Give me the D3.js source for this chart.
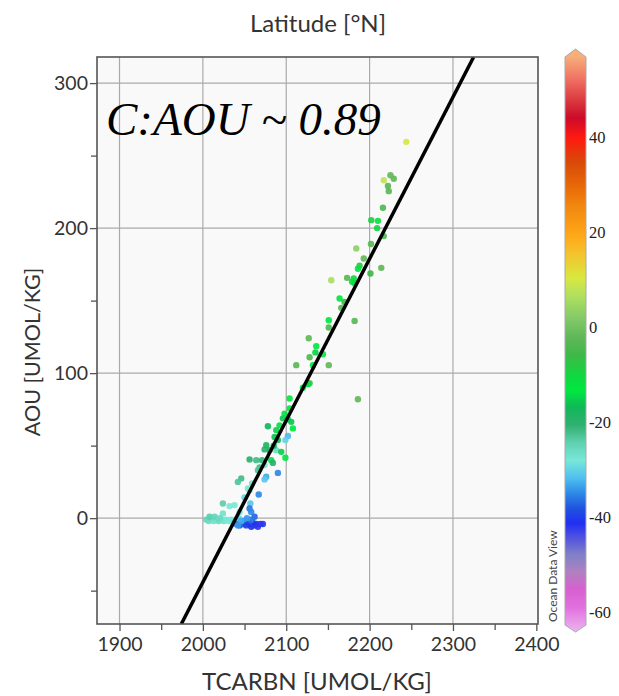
<!DOCTYPE html>
<html><head><meta charset="utf-8">
<script src="https://cdn.jsdelivr.net/npm/d3@7"></script>
<style>body{margin:0;background:#fff;} svg{display:block;}</style>
</head><body>
<svg id="c" width="619" height="696"></svg>
<script>
// ---- data ----
const tcarbn = [2244,2217,2225,2229,2222,2223,2216,2202,2210,2209,2217,2201.6,2184,2193,2188,2186,2201,2214,2173,2181,2179,2154,2182,2164,2170,2166,2151,2182,2151,2127,2136,2128,2135,2144,2132,2112,2151,2120,2128,2104,2186,2126,2104,2096,2102,2108,2106,2078,2088,2102,2099,2086,2090,2076,2080,2074,2088,2094,2099,2056,2064,2071,2082,2084,2068,2074,2066,2090,2076,2074,2046,2042,2059,2054,2056,2067,2050,2057,2024,2038,2032,2056,2058,2024,2044,2092,2098,2085,
  2004,2007,2010,2013,2016,2019,2022,2025,2028,2031,2034,2037,2040,2043,2008,2014,2020,
  2040,2044,2048,2050,2052,2055,2058,2060,2062,2064,2066,2069,2072,2062,2058,2053,2046,2042];
const aou = [259.5,233,236.5,234,229,225.5,214,205.5,205,200,194.5,189,186,179,174,172,168.7,172.6,165.7,165.3,163,164,162,151.5,149,145,136.5,136,131.5,124,118.6,111,114.3,113,105.5,105.5,105.5,90,93,82.5,82,92.4,75.6,68.8,68,61.9,66.4,63.4,60.7,56.6,53.8,56,53.8,50.3,46.9,47.4,46.9,45.7,41.6,40.5,40,40,40,38.1,35,36.6,33,31.2,28.5,26.7,27.4,25,23.9,20.5,19.3,16.3,14.3,10.1,10.1,9,8.3,6.7,4.3,3.2,4.3,64,72,50,
  -1,-2,-1,-2,-1,-2,-1,-2,-1,-2,-1,-2,-1,0,1,1,0,
  -4,-5,-4,-2,-5,-4,-6,-3,-5,-4,-6,-4,-4,1,-1,0,-2,-5];
const latitude = [10,8,-2,-2,-3,-3,-4,-9,-12,-10,-3,-3,3,-2,-8,-12,-6,-2,-3,-10,-12,6,-12,-13,-6,-3,-13,-3,-4,-2,-13,-4,-15,-13,-13,-3,-2,-13,-4,-13,-2,-14,-13,-16,-15,-13,-16,-17,-15,-32,-30,-16,-18,-18,-19,-20,-26,-15,-13,-20,-22,-21,-14,-20,-22,-28,-23,-35,-33,-31,-22,-23,-27,-28,-28,-35,-30,-31,-24,-28,-28,-36,-35,-27,-28,-14,-12,-17,
  -25,-26,-26,-27,-27,-26,-27,-27,-28,-28,-28,-29,-29,-30,-24,-25,-26,
  -36,-38,-37,-35,-40,-40,-41,-38,-42,-41,-42,-42,-42,-37,-36,-34,-33,-34];

const xTicks = [1900,2000,2100,2200,2300,2400];
const xMinor = [1950,2050,2150,2250,2350];
const yTicks = [0,100,200,300];
const yMinor = [-50,50,150,250];
const cbTicks = [40,20,0,-20,-40,-60];

// fitted relation AOU = fitSlope * (TCARBN - fitX0)
const fitSlope = 1.115;
const fitX0 = 2039.6;

const stopValues = [-65,-59,-55.3,-51.6,-47.9,-44.2,-41.3,-38.3,-34.6,-31.7,-28,-24.3,-20.6,-16.9,-13.3,-10.3,-5.8,-2.1,1.5,6.6,10.3,14.7,19.2,25,29.5,34.6,39.8,44,47,51.6,57];
const stopColors = ["#f0c0f0","#e070e0","#d860d0","#b080c0","#8080c8","#5050e0","#2030f0","#2050e0","#3090e8","#50c0f0","#78e8d8","#60d0b0","#30b070","#10b858","#00e840","#10d840","#40b848","#60b858","#80c868","#b0e060","#d8e840","#f0c830","#ffa818","#f28a10","#e86a08","#d84a08","#ff1a10","#cc0a2a","#d8303a","#ee6a60","#f7b07a"];

// ---- drawing ----
const svg = d3.select("#c");
const L=97, R=538, T=57, B=624;
const x = d3.scaleLinear().domain([1873,2402]).range([L,R]);
const y = d3.scaleLinear().domain([-73,318]).range([B,T]);
const color = d3.scaleLinear().domain(stopValues).range(stopColors).clamp(true);
const sans = "Lato, 'Open Sans', sans-serif";

svg.append("rect").attr("x",L).attr("y",T).attr("width",R-L).attr("height",B-T).attr("fill","#f9f9f9");

svg.append("defs").append("clipPath").attr("id","pc").append("rect")
  .attr("x",L).attr("y",T).attr("width",R-L).attr("height",B-T);

// grid
const g = svg.append("g");
g.selectAll(".vx").data(xTicks.filter(d=>d<2400)).join("line")
  .attr("x1",d=>x(d)).attr("x2",d=>x(d)).attr("y1",T).attr("y2",B)
  .attr("stroke","#aaa").attr("stroke-width",1.2);
g.selectAll(".hy").data(yTicks).join("line")
  .attr("x1",L).attr("x2",R).attr("y1",d=>y(d)).attr("y2",d=>y(d))
  .attr("stroke","#aaa").attr("stroke-width",1.2);

// points
svg.append("g").attr("clip-path","url(#pc)")
  .selectAll("circle").data(d3.range(tcarbn.length)).join("circle")
  .attr("cx",i=>x(tcarbn[i])).attr("cy",i=>y(aou[i])).attr("r",3.2)
  .attr("fill",i=>color(latitude[i])).attr("opacity",0.92);

// fit line
const yd = y.domain();
svg.append("line").attr("clip-path","url(#pc)")
  .attr("x1",x(fitX0 + yd[0]/fitSlope)).attr("y1",y(yd[0]))
  .attr("x2",x(fitX0 + yd[1]/fitSlope)).attr("y2",y(yd[1]))
  .attr("stroke","#000").attr("stroke-width",3.5);

// border
svg.append("rect").attr("x",L).attr("y",T).attr("width",R-L).attr("height",B-T)
  .attr("fill","none").attr("stroke","#555").attr("stroke-width",1.6);

// axes
const xAxis = svg.append("g").attr("transform",`translate(0,${B})`)
  .call(d3.axisBottom(x).tickValues(xTicks).tickSize(7).tickFormat(d3.format("d")));
const xMin = svg.append("g").attr("transform",`translate(0,${B})`)
  .call(d3.axisBottom(x).tickValues(xMinor).tickSize(6).tickFormat(""));
const yAxis = svg.append("g").attr("transform",`translate(${L},0)`)
  .call(d3.axisLeft(y).tickValues(yTicks).tickSize(7).tickFormat(d3.format("d")));
const yMin = svg.append("g").attr("transform",`translate(${L},0)`)
  .call(d3.axisLeft(y).tickValues(yMinor).tickSize(6).tickFormat(""));
[xAxis,xMin,yAxis,yMin].forEach(a=>{
  a.select(".domain").remove();
  a.selectAll("line").attr("stroke","#555").attr("stroke-width",1.3);
  a.selectAll("text").attr("font-family",sans).attr("font-size",19.5).attr("fill","#333");
});
xAxis.selectAll("text").attr("dy","0.95em").attr("y",8);
yAxis.selectAll("text").attr("x",-9);

// titles
svg.append("text").attr("x",318).attr("y",32).attr("text-anchor","middle")
  .attr("font-family",sans).attr("font-size",24).attr("fill","#333").text("Latitude [°N]");
svg.append("text").attr("x",317).attr("y",690).attr("text-anchor","middle")
  .attr("font-family",sans).attr("font-size",24).attr("fill","#333").text("TCARBN [UMOL/KG]");
svg.append("text").attr("transform","translate(40,352) rotate(-90)").attr("text-anchor","middle")
  .attr("font-family",sans).attr("font-size",21.5).attr("fill","#333").text("AOU [UMOL/KG]");

// annotation
svg.append("text").attr("x",106).attr("y",135)
  .attr("font-family","'Liberation Serif', 'Times New Roman', serif").attr("font-style","italic")
  .attr("font-size",47).attr("fill","#000").text("C:AOU ~ 0.89");

// colorbar
const cy = d3.scaleLinear().domain([-62.7,56.8]).range([625,57]);
const cbL=565, cbR=586, cbM=(cbL+cbR)/2;
const poly = [[cbL,57],[cbM,49],[cbR,57],[cbR,625],[cbM,632],[cbL,625]];
svg.select("defs").append("clipPath").attr("id","cbclip").append("polygon")
  .attr("points",poly.map(p=>p.join(",")).join(" "));
svg.append("g").attr("clip-path","url(#cbclip)")
  .selectAll("rect").data(d3.range(49,633)).join("rect")
  .attr("x",cbL).attr("y",d=>d).attr("width",cbR-cbL).attr("height",1.2)
  .attr("fill",d=>color(cy.invert(d+0.5)));
svg.append("polygon").attr("points",poly.map(p=>p.join(",")).join(" "))
  .attr("fill","none").attr("stroke","#aaa").attr("stroke-width",1);
svg.selectAll(".cbt").data(cbTicks).join("text")
  .attr("x",589).attr("y",d=>cy(d)).attr("dy","0.35em")
  .attr("font-family","'Liberation Serif', 'Times New Roman', serif").attr("font-size",16.5).attr("fill","#222")
  .text(d=>d);
svg.append("text").attr("transform","translate(557,622) rotate(-90)")
  .attr("font-family",sans).attr("font-size",12).attr("fill","#444").text("Ocean Data View");
</script>
</body></html>
